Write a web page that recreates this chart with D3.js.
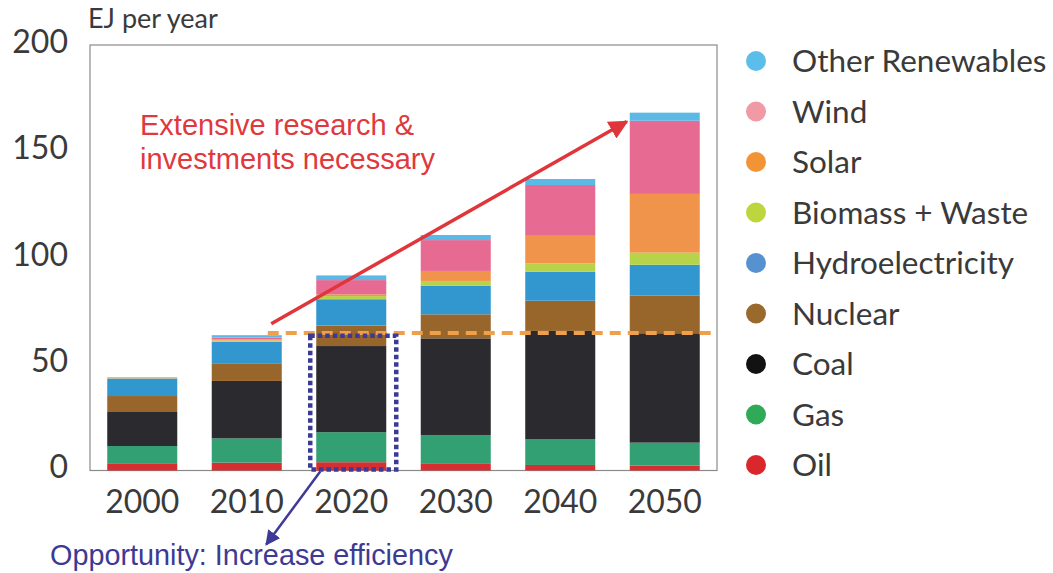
<!DOCTYPE html>
<html>
<head>
<meta charset="utf-8">
<script src="https://cdn.jsdelivr.net/npm/d3@7"></script>
<style>
  body { margin: 0; background: #fff; }
  svg { display: block; }
</style>
</head>
<body>
<div id="chart"></div>
<script>
// energy mix per decade, EJ per year
const years = ["2000", "2010", "2020", "2030", "2040", "2050"];
const oil      = [3.4, 3.7, 3.9, 3.4, 2.6, 2.3];
const gas      = [8.1, 11.4, 14.1, 13.3, 12.2, 10.8];
const coal     = [16.0, 27.0, 40.5, 45.4, 50.8, 51.4];
const nuclear  = [7.5, 8.3, 9.6, 11.3, 14.2, 17.7];
const hydro    = [8.2, 10.1, 12.4, 13.5, 13.6, 14.5];
const biomass  = [0.2, 0.6, 1.5, 2.2, 4.0, 5.7];
const solar    = [0.0, 0.5, 0.8, 4.7, 12.9, 27.6];
const wind     = [0.1, 0.9, 6.7, 14.5, 23.9, 34.4];
const otherRen = [0.3, 1.1, 2.2, 2.4, 2.8, 3.8];

// stacking order, bottom to top
const seriesNames = ["Oil", "Gas", "Coal", "Nuclear", "Hydroelectricity",
  "Biomass + Waste", "Solar", "Wind", "Other Renewables"];
const seriesValues = [oil, gas, coal, nuclear, hydro, biomass, solar, wind, otherRen];
const barColors = ["#d62f31", "#33a073", "#2b2a2e", "#98652b", "#3397cf",
  "#b7d34a", "#ef944a", "#e76a93", "#5cb9e5"];
const legendColors = ["#d9272c", "#2fab57", "#121212", "#9a6a2c", "#5592cf",
  "#bdd63d", "#f29436", "#f09aa6", "#5bbde9"];

const yTicks = [0, 50, 100, 150, 200];
const efficiencyLevel = 64.6;   // orange dashed line
const arrowFrom = 69;           // red arrow start value (over 2010)
const arrowTo = 164;            // red arrow end value (at 2050)

// build rows for d3.stack
const rows = years.map(function(yr, i) {
  const r = { year: yr };
  seriesNames.forEach(function(name, k) { r[name] = seriesValues[k][i]; });
  return r;
});

const W = 1053, H = 573;
const plot = { left: 90, right: 717, top: 45, bottom: 470.5 };

const svg = d3.select("#chart").append("svg")
  .attr("width", W)
  .attr("height", H);

const x = d3.scaleBand()
  .domain(years)
  .range([plot.left, plot.right])
  .paddingInner(0.33)
  .paddingOuter(0.165);

const y = d3.scaleLinear()
  .domain([0, 200])
  .range([plot.bottom, plot.top]);

const color = d3.scaleOrdinal().domain(seriesNames).range(barColors);

// frame
svg.append("rect")
  .attr("x", plot.left)
  .attr("y", plot.top)
  .attr("width", plot.right - plot.left)
  .attr("height", plot.bottom - plot.top)
  .attr("fill", "none")
  .attr("stroke", "#8a8a8a")
  .attr("stroke-width", 1.2);

// y tick labels
const yAxis = svg.append("g")
  .attr("transform", "translate(" + (plot.left - 22) + ",0)")
  .call(d3.axisLeft(y).tickValues(yTicks).tickSize(0).tickPadding(0));
yAxis.select(".domain").remove();
yAxis.selectAll("text")
  .attr("dy", "0.32em")
  .attr("transform", "translate(0,-3)")
  .style("font-family", "Lato, 'Open Sans', sans-serif")
  .style("font-size", "32px")
  .style("fill", "#3a3a3a");

// x labels
const xAxis = svg.append("g")
  .attr("transform", "translate(0," + (plot.bottom + 20) + ")")
  .call(d3.axisBottom(x).tickSize(0).tickPadding(0));
xAxis.select(".domain").remove();
xAxis.selectAll("text")
  .attr("dy", "0.71em")
  .style("font-family", "Lato, 'Open Sans', sans-serif")
  .style("font-size", "32px")
  .style("fill", "#3a3a3a");

svg.append("text")
  .attr("x", plot.left - 2)
  .attr("y", 28)
  .style("font-family", "Lato, 'Open Sans', sans-serif")
  .style("font-size", "27px")
  .style("fill", "#3a3a3a")
  .text("EJ per year");

// stacked bars
const stacked = d3.stack().keys(seriesNames)(rows);

svg.append("g")
  .selectAll("g")
  .data(stacked)
  .join("g")
  .attr("fill", function(d) { return color(d.key); })
  .selectAll("rect")
  .data(function(d) { return d; })
  .join("rect")
  .attr("x", function(d) { return x(d.data.year); })
  .attr("y", function(d) { return y(d[1]); })
  .attr("width", x.bandwidth())
  .attr("height", function(d) { return Math.max(0, y(d[0]) - y(d[1])); });

// orange dashed efficiency line
svg.append("line")
  .attr("x1", x("2010") + x.bandwidth() * 0.8)
  .attr("x2", plot.right)
  .attr("y1", y(efficiencyLevel))
  .attr("y2", y(efficiencyLevel))
  .attr("stroke", "#f0a04b")
  .attr("stroke-width", 4)
  .attr("stroke-dasharray", "11,7");

// arrow heads
const defs = svg.append("defs");
function arrowHead(id, fill, size) {
  defs.append("marker")
    .attr("id", id)
    .attr("viewBox", "0 0 10 10")
    .attr("refX", 9)
    .attr("refY", 5)
    .attr("markerWidth", size)
    .attr("markerHeight", size)
    .attr("orient", "auto")
    .append("path")
    .attr("d", "M0,0 L10,5 L0,10 z")
    .attr("fill", fill);
}
arrowHead("red-head", "#e0353b", 5.5);
arrowHead("blue-head", "#3f3a98", 6);

// red arrow
svg.append("line")
  .attr("x1", x("2010") + x.bandwidth() * 0.85)
  .attr("y1", y(arrowFrom))
  .attr("x2", x("2050") - 3)
  .attr("y2", y(arrowTo))
  .attr("stroke", "#e0353b")
  .attr("stroke-width", 3.5)
  .attr("marker-end", "url(#red-head)");

const redText = svg.append("text")
  .style("font-family", "'Liberation Sans', Arial, sans-serif")
  .style("font-size", "29px")
  .style("fill", "#e0393d");
redText.append("tspan").attr("x", 140).attr("y", 135).text("Extensive research &");
redText.append("tspan").attr("x", 140).attr("y", 169).text("investments necessary");

// dotted box around 2020 bar
svg.append("rect")
  .attr("x", x("2020") - 6)
  .attr("y", y(63.3))
  .attr("width", x.bandwidth() + 16)
  .attr("height", y(0) - y(63.3) - 1)
  .attr("fill", "none")
  .attr("stroke", "#3b3a96")
  .attr("stroke-width", 4.5)
  .attr("stroke-dasharray", "4.5,3");

// blue arrow
svg.append("line")
  .attr("x1", x("2020") + 4)
  .attr("y1", plot.bottom + 1)
  .attr("x2", x("2020") - 50)
  .attr("y2", plot.bottom + 74)
  .attr("stroke", "#3f3a98")
  .attr("stroke-width", 2.5)
  .attr("marker-end", "url(#blue-head)");

svg.append("text")
  .attr("x", 50)
  .attr("y", 565)
  .style("font-family", "'Liberation Sans', Arial, sans-serif")
  .style("font-size", "28.8px")
  .style("fill", "#3d3a94")
  .text("Opportunity: Increase efficiency");

// legend, top entry first
const legendOrder = seriesNames.slice().reverse();
const legend = svg.append("g")
  .selectAll("g")
  .data(legendOrder)
  .join("g")
  .attr("transform", function(d, i) { return "translate(756," + (61 + i * 50.5) + ")"; });

legend.append("circle")
  .attr("r", 10)
  .attr("fill", function(d) { return legendColors[seriesNames.indexOf(d)]; });

legend.append("text")
  .attr("x", 36)
  .attr("dy", "0.35em")
  .style("font-family", "Lato, 'Open Sans', sans-serif")
  .style("font-size", "31.5px")
  .style("fill", "#3a3a3a")
  .text(function(d) { return d; });
</script>
</body>
</html>
